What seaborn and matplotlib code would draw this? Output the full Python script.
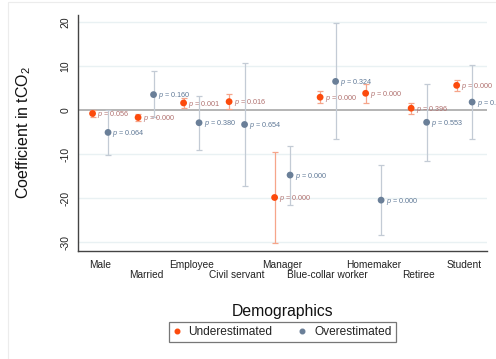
import matplotlib
matplotlib.use("Agg")
import matplotlib.pyplot as plt
import seaborn as sns
import numpy as np
import pandas as pd
from matplotlib.patches import Rectangle

# ---- data ----
categories = ["Male", "Married", "Employee", "Civil servant", "Manager",
              "Blue-collar worker", "Homemaker", "Retiree", "Student"]
under_coef = [-0.7, -1.6, 1.7, 2.0, -19.8, 3.0, 3.9, 0.5, 5.7]
under_lo = [-1.4, -2.4, 0.6, 0.3, -30.1, 1.6, 1.7, -0.8, 4.5]
under_hi = [0.0, -0.8, 2.8, 3.7, -9.5, 4.4, 6.1, 1.8, 6.9]
under_p = ["0.056", "0.000", "0.001", "0.016", "0.000", "0.000", "0.000", "0.396", "0.000"]

over_coef = [-5.0, 3.6, -2.8, -3.2, -14.7, 6.6, -20.4, -2.7, 1.9]
over_lo = [-10.2, -1.6, -9.0, -17.1, -21.4, -6.6, -28.3, -11.5, -6.6]
over_hi = [0.2, 8.9, 3.3, 10.8, -8.0, 19.8, -12.5, 6.1, 10.4]
over_p = ["0.064", "0.160", "0.380", "0.654", "0.000", "0.324", "0.000", "0.553", "0.661"]

y_ticks = [-30, -20, -10, 0, 10, 20]
series_names = ["Underestimated", "Overestimated"]

# ---- style ----
sns.set_theme(style="white")
plt.rcParams["font.family"] = ["Liberation Sans", "DejaVu Sans"]
plt.rcParams["mathtext.fontset"] = "custom"
plt.rcParams["mathtext.rm"] = "Liberation Sans"
plt.rcParams["mathtext.it"] = "Liberation Sans:italic"

c_under = "#fc4a0c"
c_under_ci = "#f6a58a"
c_under_txt = "#b0706e"
c_over = "#6a7f98"
c_over_ci = "#c3cbd5"
c_over_txt = "#5f7896"

fig = plt.figure(figsize=(4.96, 3.59), dpi=100)
fig.patch.set_facecolor("white")
ax = fig.add_axes([78 / 496, (359 - 250.7) / 359, (486.7 - 78) / 496, (250.7 - 15) / 359])

x = np.arange(1, len(categories) + 1)
off = 0.17
df = pd.concat([
    pd.DataFrame({"x": x - off, "coef": under_coef, "lo": under_lo, "hi": under_hi,
                  "p": under_p, "group": series_names[0]}),
    pd.DataFrame({"x": x + off, "coef": over_coef, "lo": over_lo, "hi": over_hi,
                  "p": over_p, "group": series_names[1]}),
], ignore_index=True)

# grid & zero line
for t in y_ticks:
    if t != 0:
        ax.axhline(t, color="#e9f1f3", lw=1.0, zorder=0)
ax.axhline(0, color="#a8a8a8", lw=1.2, zorder=1)

# error bars
for grp, cci in [(series_names[0], c_under_ci), (series_names[1], c_over_ci)]:
    d = df[df["group"] == grp]
    ax.errorbar(d["x"], d["coef"], yerr=[d["coef"] - d["lo"], d["hi"] - d["coef"]],
                fmt="none", ecolor=cci, elinewidth=0.9, capsize=2.3, capthick=0.9, zorder=2)

sns.scatterplot(data=df, x="x", y="coef", hue="group",
                palette={series_names[0]: c_under, series_names[1]: c_over},
                s=24, edgecolor="none", ax=ax, zorder=3, legend=False)

# p-value labels
for _, r in df.iterrows():
    col = c_under_txt if r["group"] == series_names[0] else c_over_txt
    ax.annotate(f"$p$ = {r['p']}", (r["x"], r["coef"]), xytext=(3.2, -0.8),
                textcoords="offset points", ha="left", va="center",
                fontsize=5.2, color=col, annotation_clip=False, clip_on=False, zorder=4)

ax.set_xlim(0.51, 9.49)
ax.set_ylim(-31.9, 21.7)
ax.set_yticks(y_ticks)
ax.set_yticklabels([str(t) for t in y_ticks], rotation=90, va="center")
ax.set_xticks(x)
ax.set_xticklabels(categories)

for s in ["top", "right"]:
    ax.spines[s].set_visible(False)
for s in ["left", "bottom"]:
    ax.spines[s].set_color("#444444")
    ax.spines[s].set_linewidth(1.0)

ax.tick_params(axis="both", which="both", direction="out", length=3.5, width=0.8,
               color="#444444", labelcolor="#222222")
ax.tick_params(axis="x", labelsize=7.3, pad=3.2)
ax.tick_params(axis="y", labelsize=7.5, pad=2)
for i, tick in enumerate(ax.xaxis.get_major_ticks()):
    if i % 2 == 1:
        tick.set_pad(3.2 + 7.2)

ax.set_xlabel("Demographics", fontsize=11.3, color="#111111")
ax.xaxis.set_label_coords(0.5, (250.7 - 304) / 235.7)
ax.set_ylabel("Coefficient in tCO$_2$", fontsize=11.5, color="#111111")
ax.yaxis.set_label_coords((33 - 78) / 408.7, 0.5)

handles = [plt.Line2D([], [], marker="o", ls="none", color=c_under, markersize=3.3),
           plt.Line2D([], [], marker="o", ls="none", color=c_over, markersize=3.3)]
leg = ax.legend(handles, series_names, loc="center", bbox_to_anchor=(0.5, -0.344),
                ncol=2, frameon=True, fancybox=False, fontsize=8.6, handlelength=0.6,
                handletextpad=0.7, columnspacing=2.2, borderpad=0.35,
                edgecolor="#555555")
leg.get_frame().set_linewidth(0.9)
for t in leg.get_texts():
    t.set_color("#222222")

fig.patches.append(Rectangle((8 / 496, -0.1), 1.2, (359 - 2) / 359 + 0.1,
                             transform=fig.transFigure, fill=False,
                             edgecolor="#ececec", lw=0.8, zorder=0))

fig.savefig("out.png", dpi=100, facecolor="white")
